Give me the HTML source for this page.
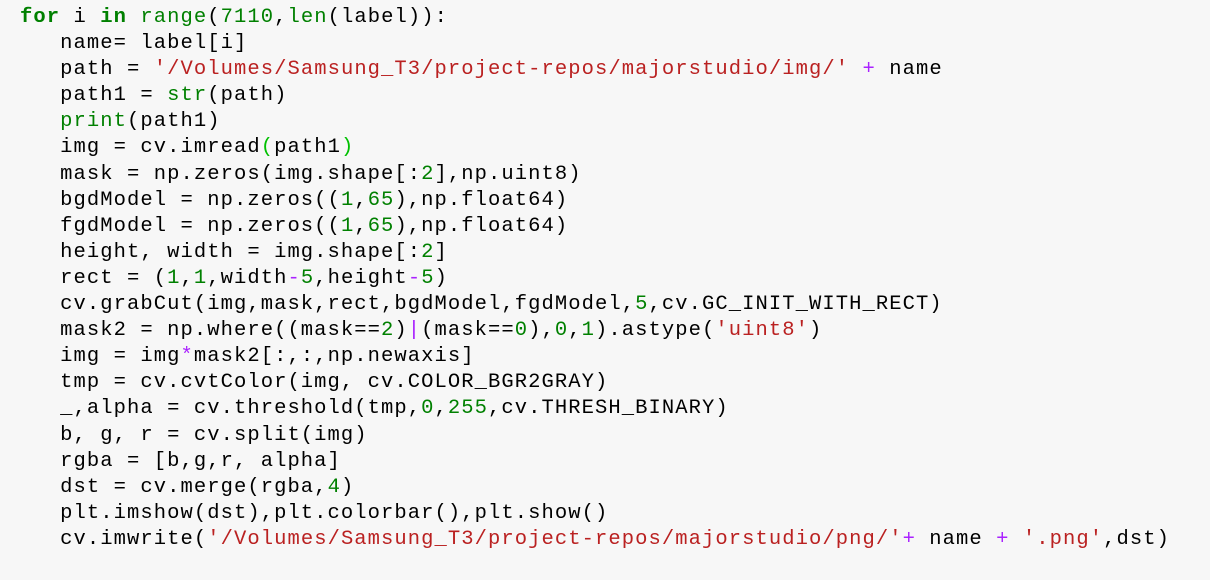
<!DOCTYPE html>
<html><head><style>
body{margin:0;background:#f7f7f7;width:1210px;height:580px;overflow:hidden}
pre{margin:0;position:absolute;left:20px;top:5px;font-family:"Liberation Mono",monospace;font-size:20.5px;letter-spacing:1.07px;line-height:26.1px;color:#000}
.k{color:#008000;font-weight:bold}.b{color:#008000}.s{color:#ba2121}.n{color:#008000}.o{color:#aa22ff}.m{color:#00c000}
</style></head><body><pre><span class="k">for</span> i <span class="k">in</span> <span class="b">range</span>(<span class="n">7110</span>,<span class="b">len</span>(label)):
   name= label[i]
   path = <span class="s">'/Volumes/Samsung_T3/project-repos/majorstudio/img/'</span> <span class="o">+</span> name
   path1 = <span class="b">str</span>(path)
   <span class="b">print</span>(path1)
   img = cv.imread<span class="m">(</span>path1<span class="m">)</span>
   mask = np.zeros(img.shape[:<span class="n">2</span>],np.uint8)
   bgdModel = np.zeros((<span class="n">1</span>,<span class="n">65</span>),np.float64)
   fgdModel = np.zeros((<span class="n">1</span>,<span class="n">65</span>),np.float64)
   height, width = img.shape[:<span class="n">2</span>]
   rect = (<span class="n">1</span>,<span class="n">1</span>,width<span class="o">-</span><span class="n">5</span>,height<span class="o">-</span><span class="n">5</span>)
   cv.grabCut(img,mask,rect,bgdModel,fgdModel,<span class="n">5</span>,cv.GC_INIT_WITH_RECT)
   mask2 = np.where((mask==<span class="n">2</span>)<span class="o">|</span>(mask==<span class="n">0</span>),<span class="n">0</span>,<span class="n">1</span>).astype(<span class="s">'uint8'</span>)
   img = img<span class="o">*</span>mask2[:,:,np.newaxis]
   tmp = cv.cvtColor(img, cv.COLOR_BGR2GRAY)
   _,alpha = cv.threshold(tmp,<span class="n">0</span>,<span class="n">255</span>,cv.THRESH_BINARY)
   b, g, r = cv.split(img)
   rgba = [b,g,r, alpha]
   dst = cv.merge(rgba,<span class="n">4</span>)
   plt.imshow(dst),plt.colorbar(),plt.show()
   cv.imwrite(<span class="s">'/Volumes/Samsung_T3/project-repos/majorstudio/png/'</span><span class="o">+</span> name <span class="o">+</span> <span class="s">'.png'</span>,dst)</pre></body></html>
